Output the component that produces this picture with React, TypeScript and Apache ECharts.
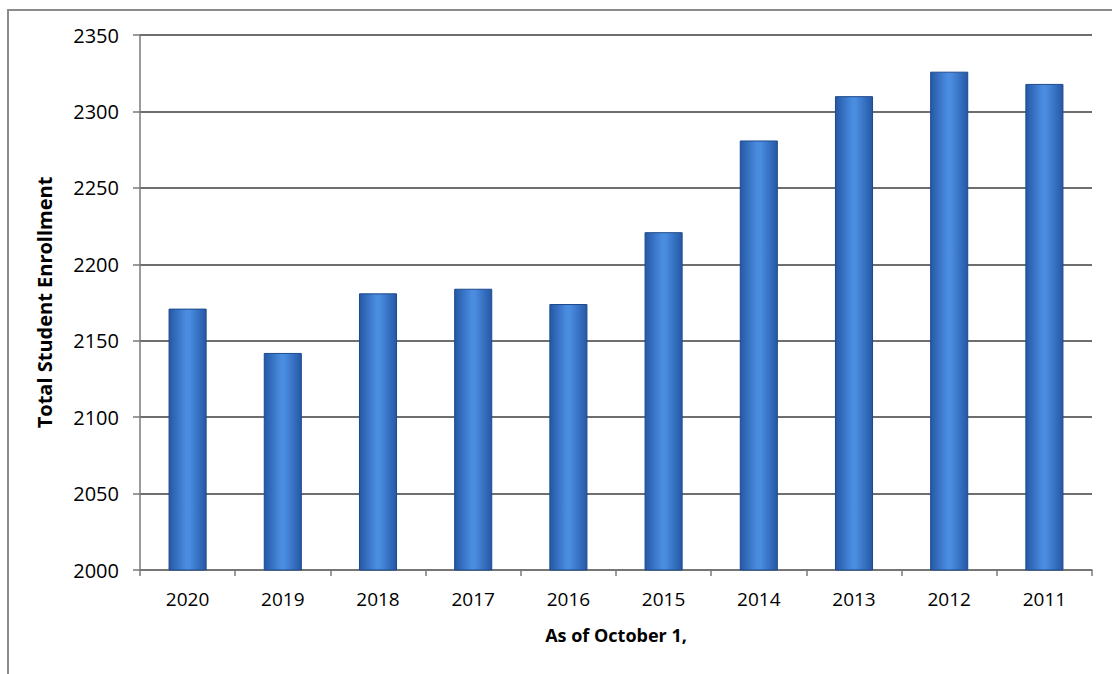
import React, { useEffect, useRef } from "react";
import * as echarts from "echarts";

const categories = ["2020", "2019", "2018", "2017", "2016", "2015", "2014", "2013", "2012", "2011"];
const enrollment = [2171, 2142, 2181, 2184, 2174, 2221, 2281, 2310, 2326, 2318];
const yTicks = { min: 2000, max: 2350, interval: 50 };
const yTitle = "Total Student Enrollment";
const xTitle = "As of October 1,";

export default function App() {
  const ref = useRef<HTMLDivElement>(null);
  useEffect(() => {
    if (!ref.current) return;
    const chart = echarts.init(ref.current, null, { renderer: "svg" });
    const font = "'Open Sans', 'Liberation Sans', sans-serif";
    chart.setOption({
      animation: false,
      backgroundColor: "#ffffff",
      graphic: [
        {
          type: "polyline",
          shape: { points: [[8, 700], [8, 10], [1112, 10]] },
          style: { stroke: "#8c8c8c", lineWidth: 2, fill: "none" },
        },
      ],
      grid: { left: 140, right: 20, top: 35, bottom: 104 },
      xAxis: {
        type: "category",
        data: categories,
        name: xTitle,
        nameLocation: "middle",
        nameGap: 56,
        nameTextStyle: { fontFamily: font, fontSize: 18, fontWeight: "bold", color: "#000" },
        axisLine: { lineStyle: { color: "#7a7a7a", width: 1.5 } },
        axisTick: { show: true, alignWithLabel: false, length: 6, lineStyle: { color: "#7a7a7a", width: 1.5 } },
        axisLabel: { fontFamily: font, fontSize: 19, color: "#000", margin: 19 },
      },
      yAxis: {
        type: "value",
        min: yTicks.min,
        max: yTicks.max,
        interval: yTicks.interval,
        name: yTitle,
        nameLocation: "middle",
        nameGap: 86,
        nameRotate: 90,
        nameTextStyle: { fontFamily: font, fontSize: 20, fontWeight: "bold", color: "#000" },
        axisLine: { show: true, lineStyle: { color: "#7a7a7a", width: 1.5 } },
        axisTick: { show: true, length: 7, lineStyle: { color: "#7a7a7a", width: 1.5 } },
        axisLabel: { fontFamily: font, fontSize: 20, color: "#000", margin: 21, formatter: (v: number) => String(v) },
        splitLine: { show: true, lineStyle: { color: "#6e6e6e", width: 1.8 } },
      },
      series: [
        {
          type: "bar",
          data: enrollment,
          barWidth: "40%",
          itemStyle: {
            color: new echarts.graphic.LinearGradient(0, 0, 1, 0, [
              { offset: 0, color: "#2558a6" },
              { offset: 0.45, color: "#4a8ce0" },
              { offset: 0.55, color: "#4a8ce0" },
              { offset: 1, color: "#2558a6" },
            ]),
            borderColor: "#1d4a8c",
            borderWidth: 1,
          },
        },
      ],
    });
    return () => chart.dispose();
  }, []);
  return (
    <div
      ref={ref}
      style={{ position: "fixed", left: 0, top: 0, width: 1112, height: 674 }}
    />
  );
}
